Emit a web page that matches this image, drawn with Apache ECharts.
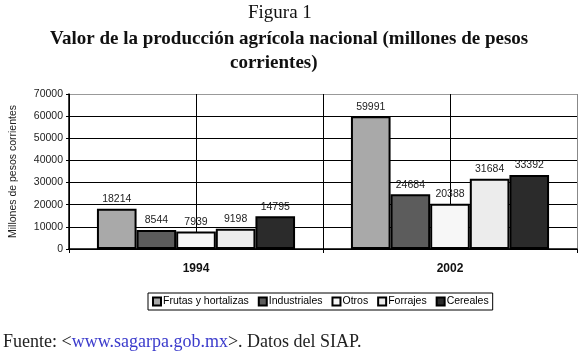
<!DOCTYPE html>
<html>
<head>
<meta charset="utf-8">
<script src="https://cdn.jsdelivr.net/npm/echarts@6/dist/echarts.min.js"></script>
<style>html,body{margin:0;padding:0;background:#fff}#c{width:583px;height:358px}</style>
</head>
<body>
<div id="c"></div>
<script>
var categories = ['1994', '2002'];
var seriesNames = ['Frutas y hortalizas', 'Industriales', 'Otros', 'Forrajes', 'Cereales'];
var frutas = [18214, 59991];
var industriales = [8544, 24684];
var otros = [7939, 20388];
var forrajes = [9198, 31684];
var cereales = [14795, 33392];
var yTicks = [0, 10000, 20000, 30000, 40000, 50000, 60000, 70000];

var values = [frutas, industriales, otros, forrajes, cereales];
var colors = ['#a9a9a9', '#5c5c5c', '#f7f7f7', '#ececec', '#2b2b2b'];
var sans = 'Liberation Sans, Arial, sans-serif';
var serif = 'Liberation Serif, Times New Roman, serif';

var chart = echarts.init(document.getElementById('c'));
chart.setOption({
  animation: false,
  backgroundColor: '#fff',
  graphic: [
    { type: 'text', left: 248, top: 4,
      style: { text: 'Figura 1', font: 'normal 19px ' + serif, fill: '#111' } },
    { type: 'text', left: 50, top: 30,
      style: { text: 'Valor de la producción agrícola nacional (millones de pesos', font: 'bold 19px ' + serif, fill: '#111' } },
    { type: 'text', left: 230, top: 54,
      style: { text: 'corrientes)', font: 'bold 19px ' + serif, fill: '#111' } },
    { type: 'text', left: 3, top: 333,
      style: { text: '{a|Fuente: <}{b|www.sagarpa.gob.mx}{a|>. Datos del SIAP.}',
        rich: {
          a: { fontFamily: serif, fontSize: 18, fontWeight: 'normal', fill: '#222' },
          b: { fontFamily: serif, fontSize: 18, fontWeight: 'normal', fill: '#3b3bcc' } } } }
  ],
  legend: {
    data: seriesNames, left: 148, top: 293, icon: 'rect', itemWidth: 8, itemHeight: 8, itemGap: 9,
    padding: [3, 4, 3, 4], borderColor: '#000', borderWidth: 1,
    textStyle: { fontFamily: sans, fontSize: 10.5, color: '#000', padding: [0, 0, 0, -3] }
  },
  grid: { left: 68, right: 6, top: 94, bottom: 109, containLabel: false },
  xAxis: [
    { type: 'category', data: categories,
      axisLine: { lineStyle: { color: '#000', width: 1.5 } },
      axisTick: { show: true, length: 4, lineStyle: { color: '#000' } },
      axisLabel: { fontFamily: sans, fontSize: 12, fontWeight: 'bold', color: '#111', margin: 14 },
      splitLine: { show: false } },
    { type: 'value', min: 0, max: 4, interval: 1, position: 'bottom',
      axisLine: { show: false }, axisTick: { show: false }, axisLabel: { show: false },
      splitLine: { show: true, lineStyle: { color: ['#000', '#000', '#000', '#000', '#888'], width: 1 } } }
  ],
  yAxis: {
    type: 'value', min: 0, max: 70000, interval: 10000,
    name: 'Millones de pesos corrientes', nameLocation: 'middle', nameGap: 50, nameRotate: 90,
    nameTextStyle: { fontFamily: sans, fontSize: 10.5, color: '#222' },
    axisLine: { show: true, lineStyle: { color: '#000', width: 1.5 } },
    axisTick: { show: true, length: 3, lineStyle: { color: '#000' } },
    axisLabel: { fontFamily: sans, fontSize: 10.5, color: '#222', margin: 6,
      formatter: function (v) { return yTicks.indexOf(v) >= 0 ? String(v) : ''; } },
    splitLine: { show: true, lineStyle: { color: ['#000', '#000', '#000', '#000', '#000', '#000', '#000', '#999'], width: 1 } }
  },
  series: seriesNames.map(function (n, i) {
    return {
      name: n, type: 'bar', xAxisIndex: 0, data: values[i],
      barGap: '0%', barCategoryGap: '22%',
      itemStyle: { color: colors[i], borderColor: '#000', borderWidth: 2 },
      label: { show: true, position: 'top', distance: 4, fontFamily: sans, fontSize: 10.5, color: '#222' }
    };
  })
});
</script>
</body>
</html>
